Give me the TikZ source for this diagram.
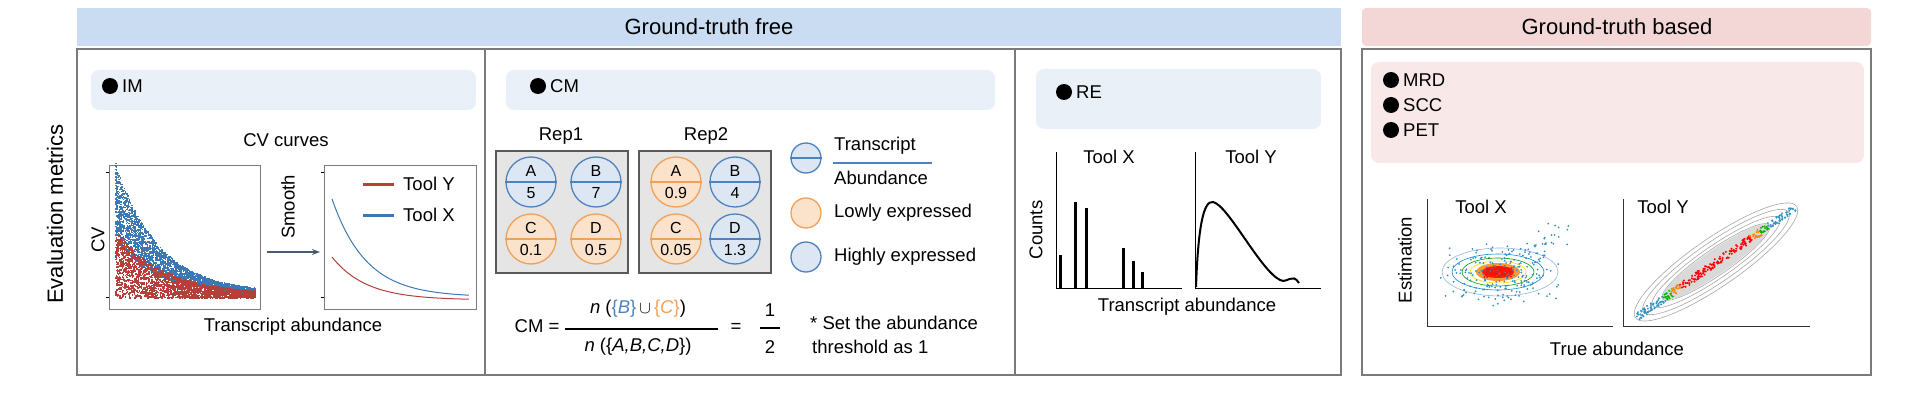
\documentclass[tikz,border=0pt]{standalone}
\usepackage{fontspec}
\setmainfont{Liberation Sans}
\usetikzlibrary{arrows.meta}
\definecolor{hdrblue}{HTML}{C9DCF1}
\definecolor{hdrpink}{HTML}{F3D6D6}
\definecolor{banblue}{HTML}{EAF0F7}
\definecolor{banpink}{HTML}{F9E8E8}
\definecolor{cblue}{HTML}{4F82BD}
\definecolor{cbluef}{HTML}{DDE7F3}
\definecolor{corange}{HTML}{EFA15A}
\definecolor{corangef}{HTML}{FBE2CB}
\definecolor{cred}{HTML}{B5403A}
\definecolor{sblue}{HTML}{3C78B4}
\definecolor{frame}{HTML}{7A7A7A}
\definecolor{arrc}{HTML}{4A5A70}
\tikzset{
  txt/.style={font=\fontsize{18.5}{21}\selectfont, inner sep=0pt},
  hdr/.style={font=\fontsize{22}{25}\selectfont, inner sep=0pt},
  banner/.style={rounded corners=8pt, draw=none},
  panel/.style={draw=frame, line width=1.2pt},
  dot/.style={circle, fill=black, minimum size=16pt, inner sep=0pt},
  tcirc/.style={circle, minimum size=50pt, inner sep=0pt, line width=1.3pt},
  lcirc/.style={circle, minimum size=30pt, inner sep=0pt, line width=1.3pt},
  ax/.style={line width=1pt, black},
}
\begin{document}
\begin{tikzpicture}[x=1pt,y=-1pt]
\useasboundingbox (0,0) rectangle (1920,401);
% headers
\fill[hdrblue] (77,8) rectangle (1341,46);
\node[hdr] (hfree) at (709,27) {Ground-truth free};
\fill[hdrpink, rounded corners=4pt] (1362,8) rectangle (1871,46);
\node[hdr] (hbased) at (1617,27) {Ground-truth based};
\node[hdr, rotate=90] (evm) at (55,214) {Evaluation metrics};
% panels
\draw[panel] (77,49) rectangle (1341,375);
\draw[panel] (485,49) -- (485,375);
\draw[panel] (1015,49) -- (1015,375);
\draw[panel] (1362,49) rectangle (1871,375);
% ---------- IM
\fill[banner, banblue] (91,70) rectangle (476,110);
\node[dot] (dim) at (110,86) {};
\node[txt, anchor=west] (lim) at (122,86) {IM};
\node[txt] (cvc) at (286,140) {CV curves};
\draw[frame, line width=1pt] (109,166) rectangle (260,309);
\foreach \yy in {172,297} \draw (109,\yy) -- (106,\yy);
\pgfmathsetseed{7}
\foreach \i in {1,...,2600}{
  \pgfmathsetmacro\u{rnd^1.3}
  \pgfmathsetmacro\g{exp(-3.3*\u)}
  \pgfmathsetmacro\v{0.42*\g+0.04+rnd*(0.58*\g+0.02)}
  \fill[sblue] (115+140*\u,300-130*\v) rectangle ++(1.5,1.5);
}
\foreach \i in {1,...,2400}{
  \pgfmathsetmacro\u{rnd^1.2}
  \pgfmathsetmacro\g{exp(-3.0*\u)}
  \pgfmathsetmacro\v{0.02+rnd*(0.5*\g+0.03)}
  \fill[cred] (115+140*\u,300-130*\v) rectangle ++(1.5,1.5);
}
\coordinate (arrS) at (267,252);
\coordinate (arrE) at (320,252);
\draw[-{Stealth[length=8pt]}, line width=1.5pt, arrc] (arrS) -- (arrE);
\node[txt, rotate=90] (smooth) at (288,207) {Smooth};
\draw[frame, line width=1pt] (324,166) rectangle (476,309);
\foreach \yy in {172,297} \draw (324,\yy) -- (321,\yy);
\draw[sblue, line width=1pt, domain=0:1, samples=50] plot ({332+137*\x},{297-98*exp(-4*\x)});
\draw[cred, line width=1pt, domain=0:1, samples=50] plot ({332+137*\x},{300-43*exp(-4*\x)});
\draw[cred, line width=3pt] (363,184) -- (394,184);
\node[txt, anchor=west] (ty1) at (403,184) {Tool Y};
\draw[sblue, line width=3pt] (363,215) -- (394,215);
\node[txt, anchor=west] (tx1) at (403,215) {Tool X};
\node[txt, rotate=90] (cvl) at (98,240) {CV};
\node[txt] (ta1) at (293,327) {Transcript abundance};
% ---------- CM
\fill[banner, banblue] (506,70) rectangle (995,110);
\node[dot] (dcm) at (538,86) {};
\node[txt, anchor=west] (lcm) at (550,86) {CM};
\node[txt] (rep1) at (561,136) {Rep1};
\node[txt] (rep2) at (706,136) {Rep2};
\draw[fill=black!10, draw=black!65, line width=1.3pt] (496,151) rectangle (628,273);
\draw[fill=black!10, draw=black!65, line width=1.3pt] (639,151) rectangle (771,273);
\newcommand{\tc}[6]{%
  \node[tcirc, draw=#4, fill=#5] (#6) at (#1) {};
  \draw[#4, line width=1.3pt] (#6.west) -- (#6.east);
  \node[txt, font=\fontsize{16}{18}\selectfont] at ([yshift=11pt]#6.center) {#2};
  \node[txt, font=\fontsize{16}{18}\selectfont] at ([yshift=-11pt]#6.center) {#3};}
\tc{531,182}{A}{5}{cblue}{cbluef}{r1a}
\tc{596,182}{B}{7}{cblue}{cbluef}{r1b}
\tc{531,239}{C}{0.1}{corange}{corangef}{r1c}
\tc{596,239}{D}{0.5}{corange}{corangef}{r1d}
\tc{676,182}{A}{0.9}{corange}{corangef}{r2a}
\tc{735,182}{B}{4}{cblue}{cbluef}{r2b}
\tc{676,239}{C}{0.05}{corange}{corangef}{r2c}
\tc{735,239}{D}{1.3}{cblue}{cbluef}{r2d}
\node[lcirc, draw=cblue, fill=cbluef] (lg1) at (806,158) {};
\draw[cblue, line width=1.3pt] (lg1.west) -- (lg1.east);
\node[txt, anchor=west] (ltr) at (834,146) {Transcript};
\draw[cblue, line width=1.5pt] (833,163) -- (932,163);
\node[txt, anchor=west] (lab) at (834,178) {Abundance};
\node[lcirc, draw=corange, fill=corangef] (lg2) at (806,213) {};
\node[txt, anchor=west] (llow) at (834,213) {Lowly expressed};
\node[lcirc, draw=cblue, fill=cbluef] (lg3) at (806,257) {};
\node[txt, anchor=west] (lhigh) at (834,257) {Highly expressed};
\node[txt] (cmeq) at (537,326) {CM =};
\draw[line width=1.5pt] (565,329) -- (718,329);
\node[txt] (num) at (638,309) {\textit{n} (\textcolor{cblue}{\{\textit{B}\}}\,$\cup$\,\textcolor{corange}{\{\textit{C}\}})};
\node[txt] (den) at (638,347) {\textit{n} (\{\textit{A,B,C,D}\})};
\node[txt] (eq2) at (736,328) {=};
\draw[line width=1.5pt] (760,328) -- (780,328);
\node[txt] (one) at (770,310) {1};
\node[txt] (two) at (770,347) {2};
\node[txt, anchor=west] (note1) at (810,323) {* Set the abundance};
\node[txt, anchor=west] (note2) at (812,347) {threshold as 1};
% ---------- RE
\fill[banner, banblue] (1036,69) rectangle (1321,129);
\node[dot] (dre) at (1064,92) {};
\node[txt, anchor=west] (lre) at (1076,92) {RE};
\draw[ax] (1056,152) -- (1056,288) -- (1182,288);
\draw[ax] (1195,152) -- (1195,288) -- (1321,288);
\node[txt] (rtx) at (1109,157) {Tool X};
\node[txt] (rty) at (1251,157) {Tool Y};
\node[txt, rotate=90] (cnt) at (1036,230) {Counts};
\foreach \bx/\by in {1060/255,1075/202,1086/208,1123/248,1133/261,1142/272}
  \draw[line width=3pt] (\bx,288) -- (\bx,\by);
\draw[line width=2pt] (1196,287) .. controls (1198,230) and (1203,200) .. (1213,202)
  .. controls (1228,205) and (1260,270) .. (1280,280)
  .. controls (1288,284) and (1292,272) .. (1299,283);
\node[txt] (ta2) at (1187,307) {Transcript abundance};
% ---------- Ground truth based
\fill[banner, banpink] (1371,62) rectangle (1864,163);
\node[dot] (d1) at (1391,80) {};
\node[txt, anchor=west] (mrd) at (1403,80) {MRD};
\node[dot] (d2) at (1391,105) {};
\node[txt, anchor=west] (scc) at (1403,105) {SCC};
\node[dot] (d3) at (1391,130) {};
\node[txt, anchor=west] (pet) at (1403,130) {PET};
\draw[ax, black!80] (1427,199) -- (1427,326) -- (1613,326);
\draw[ax, black!80] (1623,199) -- (1623,326) -- (1810,326);
\node[txt] (gtx) at (1481,207) {Tool X};
\node[txt] (gty) at (1663,207) {Tool Y};
\node[txt, rotate=90] (est) at (1405,260) {Estimation};
\node[txt] (tab) at (1617,349) {True abundance};
% tool X scatter
\draw[cblue!60, line width=0.6pt] (1500,272) ellipse [x radius=58, y radius=24];
\draw[cyan!70!blue, line width=0.6pt] (1498,272) ellipse [x radius=46, y radius=18];
\draw[green!60!black, line width=0.6pt] (1498,272) ellipse [x radius=36, y radius=14];
\draw[yellow!80!orange, line width=0.6pt] (1498,272) ellipse [x radius=28, y radius=11];
\fill[orange!80] (1498,272) ellipse [x radius=22, y radius=9];
\fill[red!80!orange] (1498,272) ellipse [x radius=16, y radius=6];
\pgfmathsetseed{11}
\foreach \i in {1,...,200}{
  \pgfmathsetmacro\a{rand+rand}
  \pgfmathsetmacro\b{rand+rand}
  \fill[sblue!80!cyan] (1500+32*\a,275+18*\b) circle (1pt);
}
\foreach \i in {1,...,40}{
  \pgfmathsetmacro\a{rnd}
  \fill[sblue!80!cyan] (1515+50*\a+12*rand,265-35*\a+12*rand) circle (1pt);
}
\foreach \i in {1,...,60}{
  \fill[red!90!orange] (1498+14*rand,272+5*rand) circle (1.1pt);
}
% tool Y scatter
\foreach \rx/\ry in {98/24,88/20,77/16,65/13,53/10,42/7}
  \draw[black!35, line width=0.6pt, rotate around={34.6:(1716,262)}] (1716,262) ellipse [x radius=\rx, y radius=\ry];
\fill[black!15, rotate around={34.6:(1716,262)}] (1716,262) ellipse [x radius=65, y radius=12];
\pgfmathsetseed{5}
\foreach \i in {1,...,320}{
  \pgfmathsetmacro\t{rnd}
  \pgfmathsetmacro\n{rand*3.5}
  \pgfmathsetmacro\d{abs(\t-0.5)}
  \pgfmathsetmacro\cn{\d<0.22 ? 1 : (\d<0.28 ? 2 : (\d<0.33 ? 3 : 4))}
  \ifcase\cn\or\def\pc{red}\or\def\pc{orange}\or\def\pc{green!70!black}\or\def\pc{sblue!80!cyan}\fi
  \fill[\pc] (1637+158*\t+0.57*\n,317-109*\t+0.82*\n) circle (1.1pt);
}
\end{tikzpicture}
\end{document}
